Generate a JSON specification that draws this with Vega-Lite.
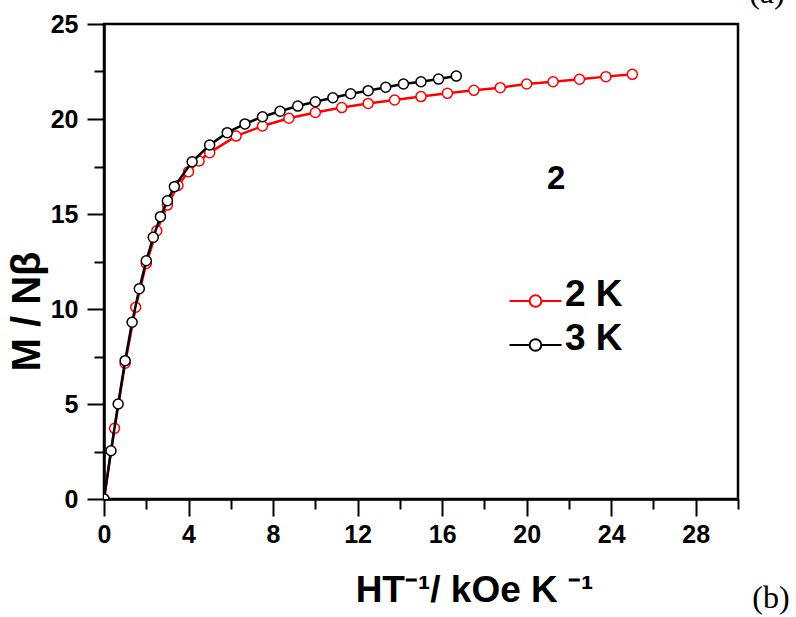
{
  "$schema": "https://vega.github.io/schema/vega-lite/v6.json",
  "autosize": "none",
  "width": 634,
  "height": 475,
  "padding": {"left": 104, "top": 24, "right": 58, "bottom": 118},
  "background": "white",
  "config": {
    "view": {"stroke": "black", "strokeWidth": 2.5},
    "font": "Liberation Sans",
    "axis": {
      "domainColor": "black", "domainWidth": 2.5, "tickColor": "black", "tickWidth": 2,
      "labelColor": "black", "labelFont": "Liberation Sans", "labelFontSize": 25, "labelFontWeight": "bold",
      "grid": false, "labelFlush": false, "labelOverlap": false, "titleColor": "black"
    }
  },
  "data": {
    "values": [
      {"s": "2 K", "x": 0, "y": 0},
      {"s": "2 K", "x": 0.5, "y": 3.72},
      {"s": "2 K", "x": 1, "y": 7.15},
      {"s": "2 K", "x": 1.5, "y": 10.09},
      {"s": "2 K", "x": 2, "y": 12.4},
      {"s": "2 K", "x": 2.5, "y": 14.12},
      {"s": "2 K", "x": 3, "y": 15.47},
      {"s": "2 K", "x": 3.5, "y": 16.5},
      {"s": "2 K", "x": 4, "y": 17.23},
      {"s": "2 K", "x": 4.5, "y": 17.79},
      {"s": "2 K", "x": 5, "y": 18.23},
      {"s": "2 K", "x": 6.25, "y": 19.1},
      {"s": "2 K", "x": 7.5, "y": 19.63},
      {"s": "2 K", "x": 8.75, "y": 20.04},
      {"s": "2 K", "x": 10, "y": 20.34},
      {"s": "2 K", "x": 11.25, "y": 20.6},
      {"s": "2 K", "x": 12.5, "y": 20.82},
      {"s": "2 K", "x": 13.75, "y": 21.0},
      {"s": "2 K", "x": 15, "y": 21.18},
      {"s": "2 K", "x": 16.25, "y": 21.35},
      {"s": "2 K", "x": 17.5, "y": 21.51},
      {"s": "2 K", "x": 18.75, "y": 21.65},
      {"s": "2 K", "x": 20, "y": 21.84},
      {"s": "2 K", "x": 21.25, "y": 21.96},
      {"s": "2 K", "x": 22.5, "y": 22.09},
      {"s": "2 K", "x": 23.75, "y": 22.23},
      {"s": "2 K", "x": 25, "y": 22.35},
      {"s": "3 K", "x": 0, "y": 0},
      {"s": "3 K", "x": 0.33, "y": 2.54},
      {"s": "3 K", "x": 0.67, "y": 5.0},
      {"s": "3 K", "x": 1, "y": 7.28},
      {"s": "3 K", "x": 1.33, "y": 9.3},
      {"s": "3 K", "x": 1.67, "y": 11.07},
      {"s": "3 K", "x": 2, "y": 12.54},
      {"s": "3 K", "x": 2.33, "y": 13.77},
      {"s": "3 K", "x": 2.67, "y": 14.86},
      {"s": "3 K", "x": 3, "y": 15.7},
      {"s": "3 K", "x": 3.33, "y": 16.44},
      {"s": "3 K", "x": 4.17, "y": 17.75},
      {"s": "3 K", "x": 5, "y": 18.63},
      {"s": "3 K", "x": 5.83, "y": 19.28},
      {"s": "3 K", "x": 6.67, "y": 19.74},
      {"s": "3 K", "x": 7.5, "y": 20.12},
      {"s": "3 K", "x": 8.33, "y": 20.41},
      {"s": "3 K", "x": 9.17, "y": 20.68},
      {"s": "3 K", "x": 10, "y": 20.91},
      {"s": "3 K", "x": 10.83, "y": 21.12},
      {"s": "3 K", "x": 11.67, "y": 21.33},
      {"s": "3 K", "x": 12.5, "y": 21.49},
      {"s": "3 K", "x": 13.33, "y": 21.67},
      {"s": "3 K", "x": 14.17, "y": 21.84},
      {"s": "3 K", "x": 15, "y": 21.96},
      {"s": "3 K", "x": 15.83, "y": 22.1},
      {"s": "3 K", "x": 16.67, "y": 22.26}
    ]
  },
  "layer": [
    {
      "encoding": {
        "x": {"field": "x", "type": "quantitative", "scale": {"domain": [0, 30], "nice": false, "zero": false},
          "axis": {"values": [0, 4, 8, 12, 16, 20, 24, 28], "tickSize": 17, "labelPadding": 6,
            "title": "HT⁻¹/ kOe K ⁻¹", "titleFont": "Liberation Sans", "titleFontSize": 37, "titleFontWeight": "bold",
            "titleX": 370, "titleY": 102, "titleAlign": "center", "titleBaseline": "alphabetic"}},
        "y": {"field": "y", "type": "quantitative", "scale": {"domain": [0, 25], "nice": false, "zero": false},
          "axis": {"values": [0, 5, 10, 15, 20, 25], "tickSize": 17, "labelPadding": 9,
            "title": "M / Nβ", "titleFont": "Liberation Sans", "titleFontSize": 40, "titleFontWeight": "bold",
            "titleX": -77, "titleY": 287, "titleAngle": 270, "titleAlign": "center", "titleBaseline": "middle"}}
      },
      "layer": [
        {
          "transform": [{"filter": "datum.s === '2 K'"}],
          "mark": {"type": "line", "strokeWidth": 2.5, "clip": true},
          "encoding": {
            "stroke": {"field": "s", "type": "nominal",
              "scale": {"domain": ["2 K", "3 K"], "range": ["#ff0000", "#000000"]},
              "legend": {"orient": "none", "legendX": 413, "legendY": 252, "title": null,
                "symbolType": "M-2,0.5H-0.45M0.45,0.5H2M0.45,0.5A0.45,0.45 0 1 1 -0.45,0.5A0.45,0.45 0 1 1 0.45,0.5Z",
                "symbolSize": 676, "symbolStrokeWidth": 2, "symbolFillColor": "white", "symbolOpacity": 1,
                "labelFont": "Liberation Sans", "labelFontSize": 37, "labelFontWeight": "bold", "labelColor": "black",
                "labelOffset": 11, "rowPadding": 6, "padding": 0}}
          }
        },
        {
          "transform": [{"filter": "datum.s === '2 K'"}],
          "mark": {"type": "point", "filled": true, "fill": "white", "size": 100, "strokeWidth": 1.5, "opacity": 1, "clip": true},
          "encoding": {"stroke": {"field": "s", "type": "nominal"}}
        },
        {
          "transform": [{"filter": "datum.s === '3 K'"}],
          "mark": {"type": "line", "strokeWidth": 2.5, "clip": true},
          "encoding": {"stroke": {"field": "s", "type": "nominal"}}
        },
        {
          "transform": [{"filter": "datum.s === '3 K'"}],
          "mark": {"type": "point", "filled": true, "fill": "white", "size": 100, "strokeWidth": 1.5, "opacity": 1, "clip": true},
          "encoding": {"stroke": {"field": "s", "type": "nominal"}}
        },
        {
          "data": {"values": [{"t": "2", "x": 21.4, "y": 16.3}]},
          "mark": {"type": "text", "font": "Liberation Sans", "fontSize": 33, "fontWeight": "bold", "align": "center", "baseline": "alphabetic", "color": "black"},
          "encoding": {"text": {"field": "t"}}
        },
        {
          "data": {"values": [{"t": "(a)", "x": 31.37, "y": 26.1}, {"t": "(b)", "x": 31.56, "y": -5.75}]},
          "mark": {"type": "text", "font": "Liberation Serif", "fontSize": 32, "align": "center", "baseline": "alphabetic", "color": "black", "clip": false},
          "encoding": {"text": {"field": "t"}}
        }
      ]
    },
    {
      "mark": {"type": "point", "opacity": 0},
      "encoding": {
        "x": {"field": "x", "type": "quantitative", "scale": {"domain": [0, 30], "nice": false, "zero": false},
          "axis": {"orient": "bottom", "values": [2, 6, 10, 14, 18, 22, 26, 30], "tickSize": 10, "labels": false, "domain": false, "title": null}},
        "y": {"field": "y", "type": "quantitative", "scale": {"domain": [0, 25], "nice": false, "zero": false},
          "axis": {"orient": "left", "values": [2.5, 7.5, 12.5, 17.5, 22.5], "tickSize": 10, "labels": false, "domain": false, "title": null}}
      }
    }
  ],
  "resolve": {"axis": {"x": "independent", "y": "independent"}}
}
